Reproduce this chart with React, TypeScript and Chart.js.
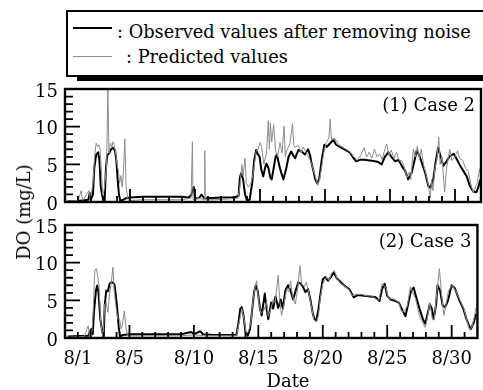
import React, { useEffect, useRef } from "react";
import { Chart, registerables } from "chart.js";

Chart.register(...registerables);

const SERIF = "'DejaVu Serif', 'Liberation Serif', serif";

// ---- axis definitions ----
const Y_MIN = 0;
const Y_MAX = 15;
const X_MIN = 0;
const X_MAX = 32;
const Y_LABEL_TICKS = [0, 5, 10, 15];
const X_LABEL_DAYS = [1, 5, 10, 15, 20, 25, 30];
const X_LABELS = ["8/1", "8/5", "8/10", "8/15", "8/20", "8/25", "8/30"];
const PANEL_TITLES = ["(1) Case 2", "(2) Case 3"];
const SERIES_NAMES = ["Observed values after removing noise", "Predicted values"];
const X_TITLE = "Date";
const Y_TITLE = "DO (mg/L)";

// ---- data: [day of August, DO mg/L] ----
const case2Observed: [number, number][] = [
  [0.2, 0.1], [0.8, 0.1], [1.3, 0.2], [1.8, 0.3], [1.9, 1.2], [2.0, 0.3], [2.15, 1.0], [2.25, 4.5], [2.4, 6.3], [2.55, 6.6],
  [2.65, 5.5], [2.75, 2.0], [2.85, 1.0], [2.95, 0.1], [3.05, 0.2], [3.15, 4.5], [3.25, 6.2], [3.4, 6.5], [3.55, 7.0], [3.7, 7.2],
  [3.85, 6.8], [3.95, 5.5], [4.05, 3.0], [4.15, 1.0], [4.25, 0.2], [4.5, 0.3], [4.7, 0.5], [5.0, 0.6], [6.0, 0.7], [7.0, 0.7],
  [8.0, 0.7], [9.0, 0.7], [9.5, 0.6], [9.7, 0.9], [9.9, 2.0], [10.0, 0.5], [10.3, 0.5], [10.5, 1.0], [10.7, 0.5], [11.0, 0.5],
  [12.0, 0.6], [13.0, 0.6], [13.35, 0.8], [13.45, 3.2], [13.55, 3.8], [13.7, 3.0], [13.85, 1.0], [14.0, 0.2], [14.2, 0.3], [14.4, 2.5],
  [14.55, 5.5], [14.7, 6.9], [14.85, 6.3], [14.97, 6.0], [15.1, 4.3], [15.25, 3.4], [15.4, 4.6], [15.5, 5.1], [15.65, 4.5], [15.8, 3.2],
  [15.9, 3.0], [16.05, 4.5], [16.2, 6.0], [16.3, 6.3], [16.5, 4.7], [16.65, 3.8], [16.8, 3.0], [17.0, 4.3], [17.2, 6.0], [17.4, 6.7],
  [17.55, 6.2], [17.7, 5.8], [17.95, 6.9], [18.2, 6.7], [18.46, 6.3], [18.7, 7.0], [18.85, 6.2], [18.97, 5.1], [19.1, 4.2], [19.25, 3.0],
  [19.4, 2.5], [19.55, 3.0], [19.75, 5.6], [19.95, 7.6], [20.13, 7.3], [20.4, 7.8], [20.64, 8.3], [20.85, 7.6], [21.15, 7.3], [21.5, 7.0],
  [21.9, 6.6], [22.2, 5.8], [22.4, 5.4], [22.7, 5.6], [23.0, 5.6], [23.45, 5.5], [23.85, 5.4], [24.1, 5.3], [24.36, 5.0], [24.6, 6.0],
  [24.87, 6.6], [25.1, 6.0], [25.4, 5.4], [25.64, 5.6], [25.9, 4.8], [26.15, 4.2], [26.4, 3.0], [26.67, 3.9], [26.9, 5.6], [27.05, 6.8],
  [27.25, 6.2], [27.45, 5.2], [27.7, 3.9], [27.95, 2.1], [28.1, 1.9], [28.33, 3.0], [28.5, 5.2], [28.7, 7.2], [28.85, 6.3], [29.1, 4.8],
  [29.35, 5.4], [29.6, 6.1], [29.9, 6.4], [30.1, 5.8], [30.4, 4.8], [30.65, 4.1], [30.9, 3.4], [31.15, 2.1], [31.4, 1.4], [31.65, 1.3],
  [31.8, 2.0], [31.95, 3.0],
];

const case2Predicted: [number, number][] = [
  [0.2, 0.1], [1.0, 0.2], [1.25, 1.5], [1.35, 0.2], [1.85, 1.5], [1.95, 0.3], [2.15, 2.5], [2.3, 6.5], [2.4, 7.8], [2.5, 7.3],
  [2.6, 7.6], [2.7, 7.0], [2.8, 4.0], [2.9, 1.0], [3.0, 1.5], [3.1, 3.0], [3.2, 5.0], [3.3, 15.0], [3.38, 6.5], [3.5, 7.8],
  [3.6, 7.3], [3.7, 8.0], [3.8, 7.5], [3.9, 6.5], [4.0, 5.0], [4.1, 4.2], [4.2, 2.5], [4.3, 3.5], [4.4, 2.0], [4.5, 4.0],
  [4.6, 8.4], [4.7, 2.0], [4.85, 0.3], [5.0, 0.2], [6.0, 0.3], [7.0, 0.3], [8.0, 0.3], [9.0, 0.3], [9.7, 0.5], [9.8, 8.0],
  [9.85, 0.3], [10.3, 0.5], [10.7, 0.3], [10.75, 6.8], [10.8, 0.3], [11.5, 0.3], [12.5, 0.4], [13.3, 0.5], [13.45, 2.0], [13.6, 5.0],
  [13.7, 3.5], [13.85, 5.8], [13.95, 2.5], [14.1, 2.0], [14.3, 2.5], [14.5, 4.0], [14.7, 6.8], [14.85, 7.0], [15.0, 7.9], [15.12, 7.4],
  [15.3, 5.0], [15.5, 6.5], [15.64, 10.8], [15.72, 7.0], [15.8, 10.5], [15.9, 8.0], [16.05, 10.3], [16.2, 6.8], [16.35, 6.0], [16.54, 7.9],
  [16.7, 6.5], [16.85, 10.1], [16.95, 6.0], [17.05, 6.8], [17.3, 7.7], [17.5, 10.4], [17.6, 7.5], [17.7, 7.3], [17.95, 7.5], [18.15, 6.5],
  [18.33, 7.3], [18.6, 6.4], [18.8, 5.8], [19.0, 4.9], [19.23, 3.5], [19.45, 2.2], [19.6, 3.2], [19.74, 4.6], [19.9, 6.5], [20.1, 7.9],
  [20.3, 8.5], [20.4, 11.0], [20.5, 8.2], [20.77, 8.4], [21.0, 7.8], [21.15, 7.5], [21.5, 7.1], [21.9, 6.7], [22.2, 6.0], [22.5, 5.6],
  [22.75, 6.2], [23.0, 7.2], [23.2, 6.0], [23.4, 6.6], [23.6, 5.8], [23.8, 7.0], [24.0, 6.0], [24.2, 6.4], [24.4, 5.6], [24.6, 7.0],
  [24.75, 7.7], [24.9, 6.2], [25.1, 6.9], [25.3, 5.8], [25.5, 6.6], [25.7, 5.5], [25.9, 5.5], [26.1, 4.6], [26.3, 3.2], [26.5, 4.0],
  [26.6, 3.0], [26.8, 7.0], [26.95, 6.0], [27.1, 7.4], [27.25, 5.8], [27.4, 7.0], [27.6, 4.8], [27.8, 3.5], [27.95, 2.2], [28.1, 0.5],
  [28.2, 3.0], [28.3, 1.5], [28.45, 4.5], [28.6, 5.5], [28.75, 8.6], [28.85, 5.0], [29.0, 6.0], [29.2, 1.3], [29.35, 4.5], [29.5, 6.0],
  [29.6, 7.0], [29.75, 5.5], [30.0, 6.0], [30.2, 6.8], [30.35, 5.8], [30.6, 5.5], [30.8, 4.5], [31.0, 4.2], [31.2, 2.5], [31.4, 1.3],
  [31.55, 1.8], [31.7, 2.5], [31.9, 4.4],
];

const case3Observed: [number, number][] = [
  [0.2, 0.2], [1.8, 0.3], [2.05, 1.2], [2.15, 0.5], [2.25, 3.5], [2.4, 6.3], [2.5, 6.95], [2.6, 6.0], [2.74, 2.5], [2.9, 0.8],
  [3.0, 0.1], [3.08, 4.3], [3.2, 6.3], [3.33, 6.2], [3.46, 7.2], [3.6, 7.4], [3.75, 7.3], [3.85, 7.0], [3.95, 5.5], [4.03, 4.3],
  [4.18, 1.2], [4.28, 0.2], [4.5, 0.4], [5.0, 0.5], [6.0, 0.5], [7.0, 0.5], [8.0, 0.5], [9.0, 0.5], [9.8, 0.8], [10.0, 0.5],
  [10.5, 0.9], [10.7, 0.5], [11.5, 0.4], [12.5, 0.4], [13.3, 0.4], [13.46, 2.0], [13.6, 3.9], [13.72, 4.1], [13.85, 3.0], [14.0, 0.8],
  [14.18, 0.3], [14.36, 1.2], [14.5, 3.4], [14.67, 6.1], [14.8, 7.0], [14.95, 6.3], [15.13, 3.9], [15.26, 3.0], [15.4, 4.7], [15.5, 5.9],
  [15.64, 3.9], [15.77, 2.5], [16.0, 4.7], [16.15, 3.9], [16.33, 5.5], [16.54, 4.0], [16.74, 5.1], [16.9, 3.9], [17.1, 6.3], [17.3, 7.0],
  [17.5, 6.3], [17.7, 5.1], [17.9, 6.3], [18.1, 7.4], [18.3, 7.2], [18.46, 6.8], [18.65, 6.1], [18.85, 6.5], [19.05, 5.0], [19.23, 3.2],
  [19.36, 2.5], [19.5, 2.3], [19.67, 3.9], [19.8, 5.6], [20.0, 7.8], [20.2, 8.1], [20.4, 7.6], [20.64, 8.1], [20.85, 8.7], [21.1, 7.9],
  [21.4, 7.4], [21.67, 6.95], [22.05, 6.5], [22.4, 5.4], [22.7, 5.7], [23.2, 5.6], [23.7, 5.5], [24.1, 5.4], [24.4, 4.9], [24.6, 6.5],
  [24.8, 7.2], [25.0, 5.6], [25.26, 5.1], [25.65, 4.9], [25.9, 4.7], [26.2, 3.6], [26.41, 2.9], [26.6, 4.3], [26.85, 6.3], [27.05, 6.7],
  [27.25, 5.4], [27.5, 3.9], [27.77, 2.5], [27.95, 1.9], [28.1, 3.0], [28.3, 4.5], [28.46, 3.9], [28.6, 2.5], [28.8, 4.5], [28.9, 7.0],
  [29.1, 6.3], [29.3, 4.3], [29.5, 4.1], [29.7, 4.9], [30.0, 7.0], [30.25, 6.6], [30.6, 5.0], [30.9, 3.9], [31.15, 2.5], [31.35, 1.6],
  [31.5, 1.2], [31.7, 2.0], [31.9, 3.2],
];

const case3Predicted: [number, number][] = [
  [0.2, 0.1], [1.5, 0.2], [1.8, 1.6], [1.9, 0.2], [2.1, 1.0], [2.2, 4.0], [2.31, 9.0], [2.44, 9.2], [2.55, 8.0], [2.64, 6.9],
  [2.77, 2.1], [2.95, 0.1], [3.08, 4.5], [3.2, 4.7], [3.33, 3.4], [3.46, 5.9], [3.6, 7.5], [3.72, 9.4], [3.8, 6.6], [3.97, 3.9],
  [4.1, 2.5], [4.23, 2.6], [4.35, 1.2], [4.44, 1.6], [4.6, 3.6], [4.74, 1.2], [4.9, 0.3], [6.0, 0.3], [7.0, 0.3], [8.0, 0.3],
  [9.0, 0.3], [10.0, 0.4], [11.0, 0.3], [12.0, 0.3], [13.3, 0.3], [13.5, 2.0], [13.72, 3.9], [13.9, 2.5], [14.05, 0.6], [14.2, 0.8],
  [14.4, 1.8], [14.6, 5.2], [14.74, 6.7], [14.87, 7.6], [15.05, 4.6], [15.2, 3.3], [15.4, 3.6], [15.5, 4.0], [15.64, 4.8], [15.77, 2.9],
  [16.0, 4.0], [16.15, 5.1], [16.3, 4.7], [16.54, 8.3], [16.67, 4.9], [16.8, 3.0], [16.97, 4.3], [17.2, 6.5], [17.36, 6.1], [17.5, 7.6],
  [17.65, 5.6], [17.87, 4.5], [18.05, 6.5], [18.23, 9.6], [18.36, 7.2], [18.56, 6.8], [18.72, 7.4], [18.9, 6.1], [19.1, 4.3], [19.3, 2.5],
  [19.5, 2.1], [19.67, 3.0], [19.8, 5.2], [20.0, 7.2], [20.3, 8.1], [20.5, 7.6], [20.64, 8.5], [20.9, 9.0], [21.1, 7.9], [21.4, 7.2],
  [21.7, 6.9], [22.0, 6.5], [22.3, 5.6], [22.6, 5.8], [23.0, 5.8], [23.4, 5.6], [23.8, 5.6], [24.1, 5.2], [24.35, 5.0], [24.6, 7.2],
  [24.9, 6.7], [25.1, 5.2], [25.5, 5.2], [25.9, 4.7], [26.1, 3.5], [26.35, 3.6], [26.55, 4.2], [26.8, 6.8], [27.0, 6.0], [27.2, 5.2],
  [27.5, 3.0], [27.75, 2.0], [27.95, 1.4], [28.1, 2.5], [28.3, 4.7], [28.5, 2.5], [28.65, 2.5], [28.85, 6.0], [29.05, 9.2], [29.2, 6.0],
  [29.4, 3.0], [29.55, 4.3], [29.75, 6.3], [30.05, 7.0], [30.3, 6.3], [30.6, 5.2], [30.95, 3.9], [31.2, 2.2], [31.4, 1.0], [31.6, 1.6],
  [31.9, 4.0],
];

const OBS_COLOR = "#000000";
const PRED_COLOR = "#8c8c8c";

const toXY = (pairs: [number, number][]) => pairs.map(([x, y]) => ({ x, y }));

const frameTicksPlugin = {
  id: "frameTicks",
  afterDatasetsDraw(chart: any, _args: any, opts: any) {
    const { ctx, chartArea: a } = chart;
    const xs = chart.scales.x;
    const ys = chart.scales.y;
    ctx.save();
    ctx.strokeStyle = "#000";
    ctx.lineWidth = 1.8;
    ctx.beginPath();
    for (let v = Y_MIN + 1; v < Y_MAX; v++) {
      const py = ys.getPixelForValue(v);
      const len = v % 5 === 0 ? 15 : 8;
      ctx.moveTo(a.left, py);
      ctx.lineTo(a.left + len, py);
    }
    for (let d = 1; d < X_MAX; d++) {
      const px = xs.getPixelForValue(d);
      const len = d % 5 === 0 ? 13 : 6;
      ctx.moveTo(px, a.bottom);
      ctx.lineTo(px, a.bottom - len);
    }
    ctx.stroke();
    ctx.lineWidth = 2.4;
    ctx.strokeRect(a.left, a.top, a.right - a.left, a.bottom - a.top);
    if (opts && opts.text) {
      ctx.fillStyle = "#000";
      ctx.font = `18px ${SERIF}`;
      ctx.textAlign = "right";
      ctx.textBaseline = "alphabetic";
      ctx.fillText(opts.text, a.right - 6, a.top + 21.5);
    }
    ctx.restore();
  },
};

type PanelProps = {
  observed: [number, number][];
  predicted: [number, number][];
  title: string;
  showX: boolean;
  padTop: number;
  padBottom: number;
};

function Panel({ observed, predicted, title, showX, padTop, padBottom }: PanelProps) {
  const ref = useRef<HTMLCanvasElement>(null);
  useEffect(() => {
    const chart = new Chart(ref.current as HTMLCanvasElement, {
      type: "line",
      data: {
        datasets: [
          {
            label: SERIES_NAMES[1],
            data: toXY(predicted),
            borderColor: PRED_COLOR,
            borderWidth: 1,
            order: 0,
          },
          {
            label: SERIES_NAMES[0],
            data: toXY(observed),
            borderColor: OBS_COLOR,
            borderWidth: 2,
            order: 1,
          },
        ],
      },
      options: {
        animation: false,
        responsive: false,
        devicePixelRatio: 1,
        layout: { padding: { top: padTop, bottom: padBottom, left: 0, right: 2 } },
        elements: { point: { radius: 0 }, line: { tension: 0, borderJoinStyle: "round" } },
        plugins: {
          legend: { display: false },
          tooltip: { enabled: false },
          frameTicks: { text: title },
        } as any,
        scales: {
          x: {
            type: "linear",
            min: X_MIN,
            max: X_MAX,
            display: showX,
            grid: { display: false, drawTicks: false },
            border: { display: false },
            afterBuildTicks: (s: any) => {
              s.ticks = X_LABEL_DAYS.map((value) => ({ value }));
            },
            ticks: {
              autoSkip: false,
              maxRotation: 0,
              padding: 11,
              color: "#000",
              font: { family: SERIF, size: 18 },
              callback: (v: any) => {
                const i = X_LABEL_DAYS.indexOf(Number(v));
                return i >= 0 ? X_LABELS[i] : "";
              },
            },
            afterFit: (s: any) => {
              s.height = showX ? 52 : 0;
            },
          },
          y: {
            type: "linear",
            min: Y_MIN,
            max: Y_MAX,
            grid: { display: false, drawTicks: false },
            border: { display: false },
            afterBuildTicks: (s: any) => {
              s.ticks = Y_LABEL_TICKS.map((value) => ({ value }));
            },
            ticks: {
              padding: 7,
              labelOffset: 3,
              color: "#000",
              font: { family: SERIF, size: 18 },
            },
            afterFit: (s: any) => {
              s.width = 65;
            },
          },
        },
      } as any,
      plugins: [frameTicksPlugin],
    });
    return () => chart.destroy();
  }, []);
  return (
    <canvas
      ref={ref}
      width={483}
      height={390}
      style={{ position: "absolute", left: 0, top: 0, width: 483, height: 390 }}
    />
  );
}

export default function App() {
  const textBase: React.CSSProperties = {
    position: "absolute",
    fontFamily: SERIF,
    color: "#000",
    whiteSpace: "nowrap",
  };
  return (
    <div
      style={{
        position: "absolute",
        left: 0,
        top: 0,
        width: 483,
        height: 390,
        overflow: "hidden",
        background: "#fff",
      }}
    >
      {/* legend shadow + box */}
      <div style={{ position: "absolute", left: 77, top: 20, width: 420, height: 61, background: "#000" }} />
      <div
        style={{
          position: "absolute",
          left: 66,
          top: 10,
          width: 440,
          height: 67,
          boxSizing: "border-box",
          border: "2px solid #000",
          background: "#fff",
        }}
      />
      <div style={{ position: "absolute", left: 73, top: 27, width: 39, height: 2, background: OBS_COLOR }} />
      <div style={{ position: "absolute", left: 73, top: 56, width: 39, height: 1, background: PRED_COLOR }} />
      <div style={{ ...textBase, left: 117, top: 22.5, fontSize: 17.8, lineHeight: "17.8px" }}>
        : {SERIES_NAMES[0]}
      </div>
      <div style={{ ...textBase, left: 126, top: 48, fontSize: 17.8, lineHeight: "17.8px" }}>
        : {SERIES_NAMES[1]}
      </div>

      <Panel
        observed={case2Observed}
        predicted={case2Predicted}
        title={PANEL_TITLES[0]}
        showX={false}
        padTop={89}
        padBottom={188}
      />
      <Panel
        observed={case3Observed}
        predicted={case3Predicted}
        title={PANEL_TITLES[1]}
        showX={true}
        padTop={225}
        padBottom={0}
      />

      <div
        style={{
          ...textBase,
          left: 24,
          top: 212,
          fontSize: 18,
          lineHeight: "18px",
          transform: "translate(-50%, -50%) rotate(-90deg)",
        }}
      >
        {Y_TITLE}
      </div>
      <div
        style={{
          ...textBase,
          left: 288,
          top: 381,
          fontSize: 18,
          lineHeight: "18px",
          transform: "translate(-50%, -50%)",
        }}
      >
        {X_TITLE}
      </div>
    </div>
  );
}
